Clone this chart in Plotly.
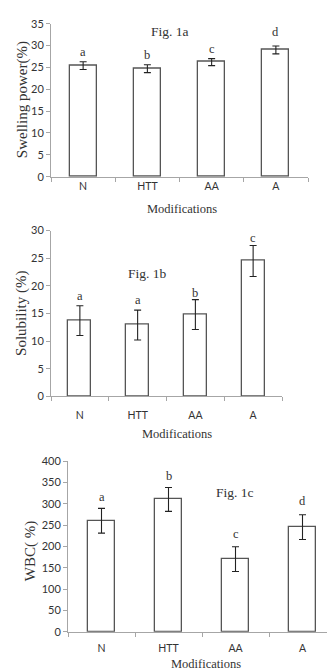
import plotly.graph_objects as go

categories = ["N", "HTT", "AA", "A"]

swelling = [25.4, 24.7, 26.2, 29.0]
swelling_err = [0.9, 0.9, 0.8, 0.9]
swelling_letters = ["a", "b", "c", "d"]

solubility = [13.7, 12.9, 14.8, 24.5]
solubility_err = [2.7, 2.7, 2.7, 2.8]
solubility_letters = ["a", "a", "b", "c"]

wbc = [260, 310, 170, 245]
wbc_err = [29, 28, 29, 29]
wbc_letters = ["a", "b", "c", "d"]

W, H = 327, 672
def px(x): return x / W
def py(y): return 1 - y / H

SERIF = "Liberation Serif"
SANS = "Lato"
INK = "#333333"
AX = "#a6a6a6"

panels = [
    dict(vals=swelling, err=swelling_err, letters=swelling_letters, ymax=35, dtick=5,
         xdom=[px(51), px(308)], ydom=[py(173), py(17)], xr=[-0.5, 3.5], bw=0.42,
         title="Fig. 1a", tpos=(170, 25), ytitle="Swelling power(%)", ytpos=(22, 95),
         xt=(182, 206), standoff=0, lshift=[10, 10, 10, 14]),
    dict(vals=solubility, err=solubility_err, letters=solubility_letters, ymax=30, dtick=5,
         xdom=[px(51), px(282)], ydom=[py(397), py(228)], xr=[-0.5, 3.5], bw=0.40,
         title="Fig. 1b", tpos=(147, 272), ytitle="Solubility (%)", ytpos=(22, 312),
         xt=(177, 435), standoff=9, lshift=[10, 10, 7, 8]),
    dict(vals=wbc, err=wbc_err, letters=wbc_letters, ymax=400, dtick=50,
         xdom=[px(68), 1.0], ydom=[py(637), py(463)], xr=[-0.5, 3.5 - 9 / 67], bw=0.40,
         title="Fig. 1c", tpos=(235, 495), ytitle="WBC( %)", ytpos=(30, 555),
         xt=(206, 670), standoff=7, lshift=[11, 11, 13, 14]),
]

fig = go.Figure()
annotations = []
xpos = list(range(len(categories)))

for i, p in enumerate(panels):
    n = "" if i == 0 else str(i + 1)
    xa, ya = "x" + n, "y" + n
    fig.add_trace(go.Bar(
        x=xpos, y=p["vals"], width=p["bw"], xaxis=xa, yaxis=ya,
        marker=dict(color="white", line=dict(color="#555555", width=1.3)),
        error_y=dict(type="data", array=p["err"], visible=True, color="#222222",
                     thickness=1.1, width=3.5),
        showlegend=False, hoverinfo="skip",
    ))
    fig.update_layout(**{
        "xaxis" + n: dict(domain=p["xdom"], range=p["xr"], anchor=ya,
                          tickvals=xpos, ticktext=categories, ticks="",
                          ticklabelstandoff=p["standoff"],
                          showline=True, linecolor=AX, linewidth=1,
                          showgrid=False, zeroline=False,
                          tickfont=dict(family=SANS, size=10.5, color=INK),
                          minor=dict(tickmode="linear", tick0=0.5, dtick=1,
                                     ticks="outside", ticklen=4, tickcolor=AX,
                                     showgrid=False)),
        "yaxis" + n: dict(domain=p["ydom"], range=[0, p["ymax"]], anchor=xa,
                          dtick=p["dtick"], ticks="outside", ticklen=4,
                          tickcolor=AX, showline=True, linecolor=AX, linewidth=1,
                          showgrid=False, zeroline=False,
                          tickfont=dict(family=SANS, size=11, color=INK)),
    })
    for j, (v, e, L) in enumerate(zip(p["vals"], p["err"], p["letters"])):
        annotations.append(dict(x=j, y=v + e, xref=xa, yref=ya, text=L,
                                showarrow=False, yanchor="middle",
                                yshift=p["lshift"][j],
                                font=dict(family=SERIF, size=12.5, color=INK)))
    annotations.append(dict(x=px(p["tpos"][0]), y=py(p["tpos"][1]), xref="paper",
                            yref="paper", text=p["title"], showarrow=False,
                            xanchor="center", yanchor="middle",
                            font=dict(family=SERIF, size=13.5, color=INK)))
    annotations.append(dict(x=px(p["ytpos"][0]), y=py(p["ytpos"][1]), xref="paper",
                            yref="paper", text=p["ytitle"], showarrow=False,
                            textangle=-90, xanchor="center", yanchor="middle",
                            font=dict(family=SERIF, size=15, color=INK)))
    annotations.append(dict(x=px(p["xt"][0]), y=py(p["xt"][1]), xref="paper",
                            yref="paper", text="Modifications", showarrow=False,
                            xanchor="center", yanchor="middle",
                            font=dict(family=SERIF, size=12.5, color=INK)))

fig.update_layout(width=W, height=H, margin=dict(l=0, r=0, t=0, b=0),
                  paper_bgcolor="white", plot_bgcolor="white",
                  annotations=annotations, bargap=0)

fig.write_html("out.html")
